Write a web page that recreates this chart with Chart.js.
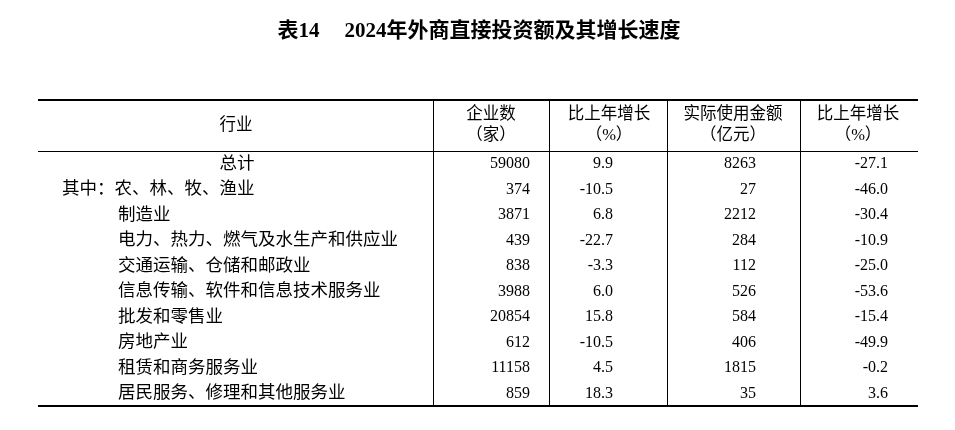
<!DOCTYPE html>
<html><head><meta charset="utf-8">
<script src="https://cdn.jsdelivr.net/npm/chart.js@4"></script>
<style>html,body{margin:0;padding:0;background:#fff}canvas{display:block}</style>
</head><body>
<canvas id="c" width="955" height="430"></canvas>
<script>
const title = "表14\u3000\u20092024年外商直接投资额及其增长速度";
const industries = ["总计","其中：农、林、牧、渔业","制造业","电力、热力、燃气及水生产和供应业","交通运输、仓储和邮政业","信息传输、软件和信息技术服务业","批发和零售业","房地产业","租赁和商务服务业","居民服务、修理和其他服务业"];
const enterprises = ["59080","374","3871","439","838","3988","20854","612","11158","859"];
const entGrowth = ["9.9","-10.5","6.8","-22.7","-3.3","6.0","15.8","-10.5","4.5","18.3"];
const amount = ["8263","27","2212","284","112","526","584","406","1815","35"];
const amtGrowth = ["-27.1","-46.0","-30.4","-10.9","-25.0","-53.6","-15.4","-49.9","-0.2","3.6"];
const headers = [["行业"],["企业数","（家）"],["比上年增长","（%）"],["实际使用金额","（亿元）"],["比上年增长","（%）"]];

const FONT = "16px 'Liberation Serif','Noto Sans CJK SC',serif";
const NAMEFONT = "17.5px 'Liberation Serif','Noto Sans CJK SC',serif";
const tablePlugin = {
  id:'table',
  afterDraw(chart){
    const ctx=chart.ctx, X=chart.scales.x, Y=chart.scales.y;
    const px=v=>X.getPixelForValue(v), py=v=>Y.getPixelForValue(v);
    ctx.save();
    ctx.fillStyle='#000'; ctx.strokeStyle='#000';
    ctx.textBaseline='middle';
    ctx.font="bold 21px 'Liberation Serif','Noto Sans CJK SC',serif";
    ctx.textAlign='center';
    ctx.fillText(title, px(479), py(32));
    const L=px(38), R=px(918);
    ctx.lineWidth=2;
    ctx.beginPath();ctx.moveTo(L,py(100));ctx.lineTo(R,py(100));ctx.stroke();
    ctx.beginPath();ctx.moveTo(L,py(406));ctx.lineTo(R,py(406));ctx.stroke();
    ctx.lineWidth=1;
    ctx.beginPath();ctx.moveTo(L,py(151.5));ctx.lineTo(R,py(151.5));ctx.stroke();
    [433,549,667,800].forEach(x=>{ctx.beginPath();ctx.moveTo(px(x)+0.5,py(100));ctx.lineTo(px(x)+0.5,py(406));ctx.stroke();});
    ctx.font="16.5px 'Liberation Serif','Noto Sans CJK SC',serif";
    const hc=[236,491,609,733,858];
    headers.forEach((h,i)=>{
      if(h.length===1) ctx.fillText(h[0],px(hc[i]),py(126));
      else {ctx.fillText(h[0],px(hc[i]),py(115));ctx.fillText(h[1],px(hc[i]),py(136));}
    });
    const cols=[[enterprises,530],[entGrowth,613],[amount,756],[amtGrowth,888]];
    industries.forEach((name,i)=>{
      const y=py(164+i*25.5);
      ctx.font=NAMEFONT;
      if(i===0){ctx.textAlign='center';ctx.fillText(name,px(237),y);}
      else {ctx.textAlign='left';ctx.fillText(name,px(i===1?62:118),y);}
      ctx.font=FONT;
      ctx.textAlign='right';
      cols.forEach(([arr,x])=>ctx.fillText(arr[i],px(x),y));
    });
    ctx.restore();
  }
};
new Chart(document.getElementById('c'),{
  type:'scatter',
  data:{datasets:[{data:[]}]},
  options:{responsive:false,animation:false,
    layout:{padding:0},
    plugins:{legend:{display:false},tooltip:{enabled:false}},
    scales:{x:{type:'linear',min:0,max:955,display:false},
            y:{type:'linear',min:0,max:430,reverse:true,display:false}}},
  plugins:[tablePlugin]
});
</script>
</body></html>
